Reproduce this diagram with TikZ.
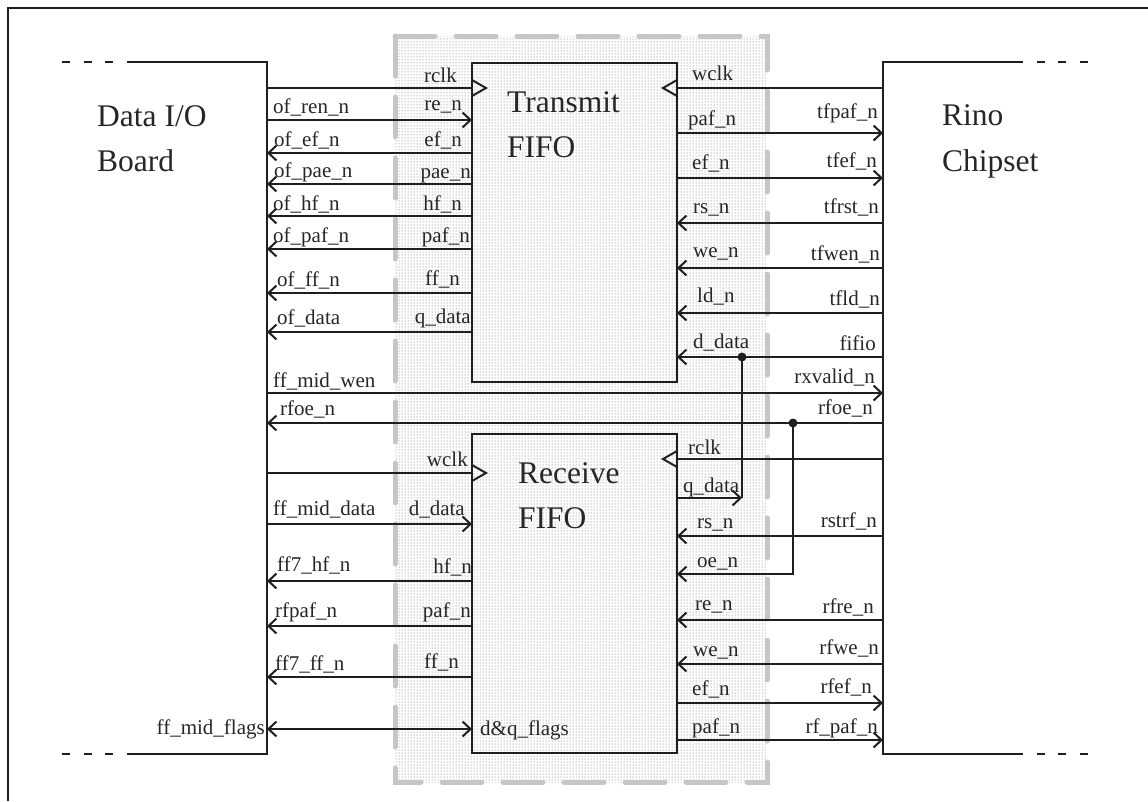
\documentclass[tikz,border=0pt]{standalone}
\usepackage{fontspec}
\setmainfont{Liberation Serif}
\usetikzlibrary{arrows.meta,patterns}
\begin{document}
\begin{tikzpicture}[x=1pt,y=-1pt,
  sig/.style={line width=2pt, draw=black!88},
  arr/.style={sig,-{Straight Barb[length=8pt,width=15pt]}},
  arrb/.style={sig,{Straight Barb[length=8pt,width=15pt]}-{Straight Barb[length=8pt,width=15pt]}},
  box/.style={line width=2.2pt, draw=black!88},
  edash/.style={box, dash pattern=on 8pt off 13.67pt},
  lbl/.style={font=\fontsize{21}{24}\selectfont, inner sep=0pt, text=black!85},
  lw/.style={lbl,anchor=base west},
  le/.style={lbl,anchor=base east},
  big/.style={font=\fontsize{31.5}{36}\selectfont, inner sep=0pt, anchor=base west, text=black!85},
  fifo/.style={draw=black!88, line width=2.2pt, minimum width=205pt, minimum height=319pt, inner sep=0pt, outer sep=0pt},
  jdot/.style={circle, fill=black!88, inner sep=0pt, minimum size=9pt}
]
\useasboundingbox (0,0) rectangle (1148,801);

% shaded region
\path[pattern=dots, pattern color=black!60] (395,36) rectangle (767,782);
\draw[gray!45, line width=5pt, dash pattern=on 40pt off 21pt, line cap=round] (395,36) rectangle (767,782);

% outer frame
\draw[line width=2pt, black!88] (8,801) -- (8,8) -- (1148,8);

% Data I/O board
\draw[box] (135,62) -- (267,62) -- (267,754) -- (135,754);
\draw[edash] (62,62) -- (135,62);
\draw[edash] (62,754) -- (135,754);
\coordinate (dio) at (267,62);
\node[big] (dio1) at (97,126) {Data I/O};
\node[big] (dio2) at (97,171) {Board};

% Rino chipset
\draw[box] (1015,62) -- (883,62) -- (883,754) -- (1015,754);
\draw[edash] (1088,62) -- (1015,62);
\draw[edash] (1088,754) -- (1015,754);
\coordinate (rino) at (883,62);
\node[big] (ri1) at (942,125) {Rino};
\node[big] (ri2) at (942,171) {Chipset};

% FIFOs
\node[fifo] (tx) at (574.5,222.5) {};
\node[fifo] (rx) at (574.5,593.5) {};
\node[big] (tx1) at (507,112) {Transmit};
\node[big] (tx2) at (507,157) {FIFO};
\node[big] (rx1) at (518,483) {Receive};
\node[big] (rx2) at (518,528) {FIFO};

% ---- Transmit FIFO, left side
\draw[sig] (dio |- 0,88) -- (tx.west |- 0,88);
\draw[sig] (tx.west |- 0,80) -- ++(14,8) -- ++(-14,8);
\draw[arr] (dio |- 0,120) -- (tx.west |- 0,120);
\draw[arr] (tx.west |- 0,153) -- (dio |- 0,153);
\draw[arr] (tx.west |- 0,184) -- (dio |- 0,184);
\draw[arr] (tx.west |- 0,216) -- (dio |- 0,216);
\draw[arr] (tx.west |- 0,249) -- (dio |- 0,249);
\draw[arr] (tx.west |- 0,293) -- (dio |- 0,293);
\draw[arr] (tx.west |- 0,332) -- (dio |- 0,332);

\node[lw] (a2) at (273,113) {of\_ren\_n};
\node[lw] (a3) at (274,146) {of\_ef\_n};
\node[lw] (a4) at (274,177) {of\_pae\_n};
\node[lw] (a5) at (273,210) {of\_hf\_n};
\node[lw] (a6) at (273,242) {of\_paf\_n};
\node[lw] (a7) at (277,286) {of\_ff\_n};
\node[lw] (a8) at (277,324) {of\_data};

\node[le] (b1) at (457,82) {rclk};
\node[le] (b2) at (462,110) {re\_n};
\node[le] (b3) at (462,146) {ef\_n};
\node[le] (b4) at (471,178) {pae\_n};
\node[le] (b5) at (462,210) {hf\_n};
\node[le] (b6) at (470,242) {paf\_n};
\node[le] (b7) at (460,285) {ff\_n};
\node[le] (b8) at (471,323) {q\_data};

% ---- Transmit FIFO, right side
\draw[sig] (rino |- 0,88) -- (tx.east |- 0,88);
\draw[sig] (tx.east |- 0,80) -- ++(-14,8) -- ++(14,8);
\draw[arr] (tx.east |- 0,133) -- (rino |- 0,133);
\draw[arr] (tx.east |- 0,178) -- (rino |- 0,178);
\draw[arr] (rino |- 0,223) -- (tx.east |- 0,223);
\draw[arr] (rino |- 0,268) -- (tx.east |- 0,268);
\draw[arr] (rino |- 0,313) -- (tx.east |- 0,313);
\draw[arr] (rino |- 0,357) -- (tx.east |- 0,357);

\node[lw] (c1) at (692,80) {wclk};
\node[lw] (c2) at (688,125) {paf\_n};
\node[lw] (c3) at (692,169) {ef\_n};
\node[lw] (c4) at (693,213) {rs\_n};
\node[lw] (c5) at (693,257) {we\_n};
\node[lw] (c6) at (697,302) {ld\_n};
\node[lw] (c7) at (693,348) {d\_data};

\node[le] (d2) at (878,118) {tfpaf\_n};
\node[le] (d3) at (877,167) {tfef\_n};
\node[le] (d4) at (879,213) {tfrst\_n};
\node[le] (d5) at (880,260) {tfwen\_n};
\node[le] (d6) at (880,305) {tfld\_n};
\node[le] (d7) at (876,350) {fifio};

% ---- crossing signals
\draw[arr] (dio |- 0,393) -- (rino |- 0,393);
\draw[arr] (rino |- 0,423) -- (dio |- 0,423);
\node[lw] (e1) at (273,387) {ff\_mid\_wen};
\node[le] (e2) at (875,383) {rxvalid\_n};
\node[lw] (e3) at (280,415) {rfoe\_n};
\node[le] (e4) at (873,414) {rfoe\_n};

% junctions
\node[jdot] (j1) at (742,357) {};
\coordinate (j1b) at (742,498);
\draw[sig] (j1.center) -- (j1b);
\draw[arr] (rx.east |- j1b) -- (j1b);
\node[jdot] (j2) at (793,423) {};
\coordinate (j2b) at (793,574);
\draw[arr] (j2.center) -- (j2b) -- (rx.east |- j2b);

% ---- Receive FIFO, left side
\draw[sig] (dio |- 0,473) -- (rx.west |- 0,473);
\draw[sig] (rx.west |- 0,465) -- ++(14,8) -- ++(-14,8);
\draw[arr] (dio |- 0,524) -- (rx.west |- 0,524);
\draw[arr] (rx.west |- 0,581) -- (dio |- 0,581);
\draw[arr] (rx.west |- 0,626) -- (dio |- 0,626);
\draw[arr] (rx.west |- 0,677) -- (dio |- 0,677);
\draw[arrb] (dio |- 0,729) -- (rx.west |- 0,729);

\node[lw] (f2) at (273,515) {ff\_mid\_data};
\node[lw] (f3) at (277,571) {ff7\_hf\_n};
\node[lw] (f4) at (275,617) {rfpaf\_n};
\node[lw] (f5) at (275,670) {ff7\_ff\_n};
\node[le] (f6) at (265,734) {ff\_mid\_flags};

\node[le] (g1) at (468,466) {wclk};
\node[le] (g2) at (465,515) {d\_data};
\node[le] (g3) at (472,573) {hf\_n};
\node[le] (g4) at (471,617) {paf\_n};
\node[le] (g5) at (459,668) {ff\_n};
\node[lw] (g6) at (480,735) {d\&q\_flags};

% ---- Receive FIFO, right side
\draw[sig] (rino |- 0,459) -- (rx.east |- 0,459);
\draw[sig] (rx.east |- 0,451) -- ++(-14,8) -- ++(14,8);
\draw[arr] (rino |- 0,536) -- (rx.east |- 0,536);
\draw[arr] (rino |- 0,620) -- (rx.east |- 0,620);
\draw[arr] (rino |- 0,664) -- (rx.east |- 0,664);
\draw[arr] (rx.east |- 0,703) -- (rino |- 0,703);
\draw[arr] (rx.east |- 0,740) -- (rino |- 0,740);

\node[lw] (h1) at (688,454) {rclk};
\node[lw] (h2) at (683,492) {q\_data};
\node[lw] (h3) at (697,528) {rs\_n};
\node[lw] (h4) at (697,567) {oe\_n};
\node[lw] (h5) at (695,610) {re\_n};
\node[lw] (h6) at (693,656) {we\_n};
\node[lw] (h7) at (692,695) {ef\_n};
\node[lw] (h8) at (692,733) {paf\_n};

\node[le] (k3) at (877,527) {rstrf\_n};
\node[le] (k5) at (874,613) {rfre\_n};
\node[le] (k6) at (879,654) {rfwe\_n};
\node[le] (k7) at (872,693) {rfef\_n};
\node[le] (k8) at (878,733) {rf\_paf\_n};
\end{tikzpicture}
\end{document}
